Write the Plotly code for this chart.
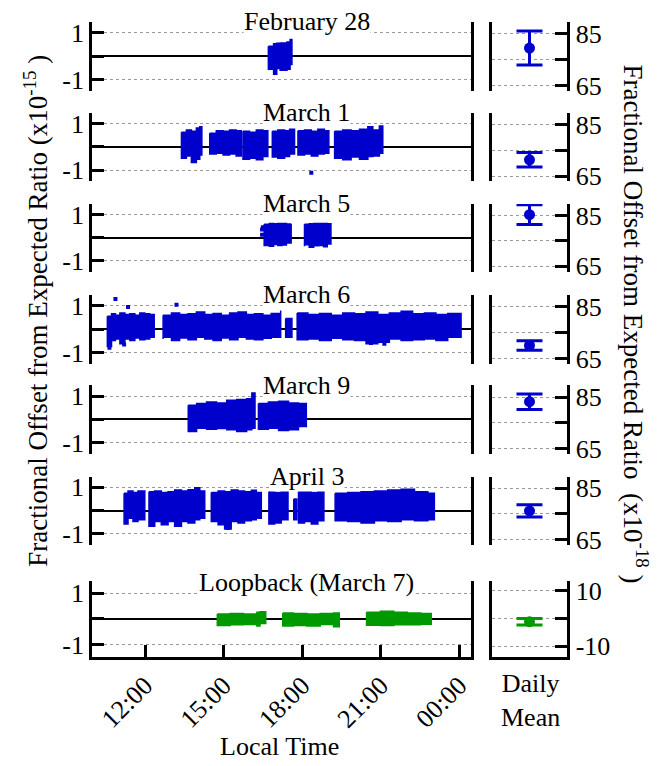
import plotly.graph_objects as go

FONT = "Liberation Serif, Times New Roman, serif"
BLUE = "#0000CC"
GREEN = "#009900"
W, H = 658, 766

# ---------------- data ----------------
row_titles = ["February 28", "March 1", "March 5", "March 6", "March 9",
              "April 3", "Loopback (March 7)"]
row_colors = [BLUE, BLUE, BLUE, BLUE, BLUE, BLUE, GREEN]

# local time in hours; upper / lower envelope of each data block (units of 1e-15)
feb28_t = [[16.71, 16.91, 17.03, 17.16, 17.42, 17.54, 17.61]]
feb28_hi = [[0.42, 0.52, 0.55, 0.56, 0.60, 0.70, 0.49]]
feb28_lo = [[-0.46, -0.56, -0.77, -0.52, -0.60, -0.56, -0.35]]
feb28_out_t = []
feb28_out_v = []

mar1_t = [[13.39, 13.58, 13.77, 13.96, 14.09, 14.17],
          [14.47, 14.72, 14.98, 15.23, 15.48, 15.68],
          [15.74, 15.99, 16.25, 16.50, 16.69],
          [16.86, 17.07, 17.33, 17.52, 17.71],
          [17.84, 18.09, 18.35, 18.60, 18.85, 19.02],
          [19.24, 19.55, 19.87, 20.19, 20.51, 20.70, 20.95, 21.08]]
mar1_hi = [[0.63, 0.72, 0.67, 0.81, 0.86, 0.63],
           [0.58, 0.69, 0.67, 0.72, 0.69, 0.63],
           [0.67, 0.63, 0.72, 0.69, 0.67],
           [0.67, 0.72, 0.69, 0.76, 0.67],
           [0.69, 0.72, 0.67, 0.76, 0.69, 0.63],
           [0.67, 0.72, 0.69, 0.76, 0.86, 0.72, 0.90, 0.63]]
mar1_lo = [[-0.31, -0.49, -0.39, -0.67, -0.53, -0.35],
           [-0.25, -0.31, -0.28, -0.35, -0.31, -0.39],
           [-0.44, -0.53, -0.49, -0.56, -0.42],
           [-0.39, -0.44, -0.49, -0.42, -0.31],
           [-0.31, -0.35, -0.31, -0.39, -0.31, -0.28],
           [-0.42, -0.49, -0.56, -0.44, -0.53, -0.42, -0.39, -0.28]]
mar1_out_t = [18.35]
mar1_out_v = [-1.11]

mar5_t = [[16.55, 16.75, 16.91, 17.07, 17.23, 17.40, 17.58],
          [18.09, 18.27, 18.44, 18.63, 18.82, 18.96, 19.10]]
mar5_hi = [[0.58, 0.61, 0.60, 0.61, 0.61, 0.59, 0.60],
           [0.58, 0.60, 0.61, 0.61, 0.61, 0.60, 0.60]]
mar5_lo = [[-0.31, -0.35, -0.38, -0.30, -0.35, -0.33, -0.24],
           [-0.38, -0.32, -0.42, -0.36, -0.35, -0.40, -0.28]]
mar5_out_t = [16.47, 16.47, 16.50]
mar5_out_v = [0.35, 0.12, 0.45]

mar6_t = [[10.56, 10.72, 10.87, 11.04, 11.23, 11.42, 11.61, 11.80, 11.99, 12.18, 12.35],
          [12.69, 13.01, 13.32, 13.64, 13.96, 14.28, 14.60, 14.91, 15.23, 15.55, 15.87,
           16.18, 16.50, 16.82, 17.18],
          [17.37, 17.61],
          [17.81, 18.22, 18.66, 19.11, 19.55, 20.00, 20.44, 20.89, 21.33, 21.78, 22.22,
           22.67, 23.11, 23.56, 24.07]]
mar6_hi = [[0.56, 0.66, 0.60, 0.70, 0.63, 0.66, 0.60, 0.70, 0.66, 0.63, 0.59],
           [0.60, 0.70, 0.63, 0.66, 0.74, 0.63, 0.67, 0.60, 0.70, 0.74, 0.63,
            0.66, 0.60, 0.67, 0.80],
           [0.46, 0.46],
           [0.70, 0.63, 0.67, 0.60, 0.70, 0.66, 0.74, 0.63, 0.70, 0.77, 0.66,
            0.70, 0.63, 0.67, 0.63]]
mar6_lo = [[-0.42, -0.74, -0.49, -0.42, -0.63, -0.42, -0.49, -0.38, -0.46, -0.42, -0.35],
           [-0.42, -0.35, -0.49, -0.38, -0.46, -0.35, -0.42, -0.49, -0.38, -0.45, -0.35,
            -0.42, -0.46, -0.39, -0.35],
           [-0.35, -0.35],
           [-0.38, -0.46, -0.42, -0.49, -0.39, -0.46, -0.49, -0.63, -0.56, -0.42, -0.49,
            -0.46, -0.42, -0.49, -0.35]]
mar6_out_t = [10.87, 11.35, 13.20, 10.64, 11.20, 20.63, 21.14]
mar6_out_v = [1.30, 0.95, 1.05, -0.80, -0.66, -0.60, -0.63]

mar9_t = [[13.65, 13.97, 14.35, 14.73, 15.12, 15.50, 15.88, 16.08, 16.20],
          [16.33, 16.71, 17.10, 17.48, 17.86, 18.16]]
mar9_hi = [[0.61, 0.68, 0.75, 0.70, 0.82, 0.85, 0.89, 1.13, 0.61],
           [0.68, 0.75, 0.85, 0.70, 0.68, 0.56]]
mar9_lo = [[-0.31, -0.52, -0.38, -0.42, -0.39, -0.45, -0.52, -0.45, -0.38],
           [-0.31, -0.42, -0.38, -0.48, -0.45, -0.31]]
mar9_out_t = []
mar9_out_v = []

apr3_t = [[11.20, 11.35, 11.54, 11.73, 11.99],
          [12.15, 12.37, 12.62, 12.88, 13.13, 13.39, 13.64, 13.90, 14.09, 14.28],
          [14.53, 14.79, 15.04, 15.29, 15.55, 15.80, 16.06, 16.25, 16.44],
          [16.73, 16.95, 17.20, 17.46],
          [17.68, 17.80],
          [17.86, 18.09, 18.35, 18.60, 18.83],
          [19.26, 19.74, 20.25, 20.76, 21.27, 21.78, 22.29, 22.80, 23.05]]
apr3_hi = [[0.74, 0.84, 0.78, 0.84, 0.81],
           [0.81, 0.84, 0.78, 0.81, 0.88, 0.84, 0.89, 0.98, 0.84, 0.74],
           [0.78, 0.84, 0.81, 0.88, 0.84, 0.81, 0.87, 0.78, 0.74],
           [0.81, 0.78, 0.84, 0.74],
           [0.50, 0.52],
           [0.81, 0.84, 0.78, 0.81, 0.74],
           [0.74, 0.78, 0.81, 0.84, 0.88, 0.92, 0.81, 0.74, 0.70]]
apr3_lo = [[-0.40, -0.58, -0.33, -0.47, -0.40],
           [-0.54, -0.68, -0.47, -0.61, -0.47, -0.68, -0.47, -0.54, -0.40, -0.33],
           [-0.40, -0.47, -0.61, -0.79, -0.47, -0.54, -0.44, -0.40, -0.33],
           [-0.47, -0.58, -0.54, -0.40],
           [-0.35, -0.40],
           [-0.40, -0.54, -0.47, -0.58, -0.44],
           [-0.40, -0.44, -0.47, -0.54, -0.44, -0.47, -0.40, -0.44, -0.40]]
apr3_out_t = [15.17]
apr3_out_v = [-0.75]

loop_t = [[14.76, 15.25, 15.76, 16.27, 16.39, 16.61],
          [17.26, 17.67, 18.18, 18.69, 19.20, 19.42],
          [20.46, 20.99, 21.50, 22.01, 22.53, 22.93]]
loop_hi = [[0.19, 0.21, 0.19, 0.26, 0.28, 0.23],
           [0.23, 0.21, 0.19, 0.21, 0.23, 0.21],
           [0.26, 0.30, 0.26, 0.23, 0.21, 0.19]]
loop_lo = [[-0.22, -0.26, -0.23, -0.22, -0.28, -0.18],
           [-0.22, -0.28, -0.26, -0.28, -0.22, -0.31],
           [-0.22, -0.25, -0.26, -0.23, -0.23, -0.21]]
loop_out_t = []
loop_out_v = []

# daily means (units of 1e-18) and their uncertainties
mean_vals = [79.4, 71.3, 85.3, 70.0, 83.2, 76.2, -1.2]
mean_errs = [6.5, 2.8, 3.9, 1.8, 3.0, 2.4, 1.2]

time_tickvals = [12, 15, 18, 21, 24]
time_ticktext = ["12:00", "15:00", "18:00", "21:00", "00:00"]

rows = [
    (feb28_t, feb28_hi, feb28_lo, feb28_out_t, feb28_out_v),
    (mar1_t, mar1_hi, mar1_lo, mar1_out_t, mar1_out_v),
    (mar5_t, mar5_hi, mar5_lo, mar5_out_t, mar5_out_v),
    (mar6_t, mar6_hi, mar6_lo, mar6_out_t, mar6_out_v),
    (mar9_t, mar9_hi, mar9_lo, mar9_out_t, mar9_out_v),
    (apr3_t, apr3_hi, apr3_lo, apr3_out_t, apr3_out_v),
    (loop_t, loop_hi, loop_lo, loop_out_t, loop_out_v),
]

# ---------------- layout geometry (pixels) ----------------
row_top = [17, 110, 203, 296, 388, 481, 588]
row_bot = [88, 180, 272, 366, 458, 551, 665]
left_x = (92.3, 472.0)
right_x = (492.3, 568.3)

fig = go.Figure()
layout = dict(
    width=W, height=H, margin=dict(l=0, r=0, t=0, b=0),
    paper_bgcolor="white", plot_bgcolor="white", showlegend=False,
    font=dict(family=FONT, size=26, color="black"),
)

annotations = []
n = len(rows)
for i, (ts, his, los, ot, ov) in enumerate(rows):
    col = row_colors[i]
    kl = i + 1          # left axis index
    kr = i + 1 + n      # right axis index
    xl, yl = f"x{kl}", f"y{kl}"
    xr, yr = f"x{kr}", f"y{kr}"
    for t, hi, lo in zip(ts, his, los):
        fig.add_trace(go.Scatter(
            x=t + t[::-1] + [t[0]], y=hi + lo[::-1] + [hi[0]],
            mode="lines", fill="toself", fillcolor=col,
            line=dict(color=col, width=1.5, shape="hv"), xaxis=xl, yaxis=yl,
            hoverinfo="skip"))
    if ot:
        fig.add_trace(go.Scatter(
            x=ot, y=ov, mode="markers",
            marker=dict(color=col, size=4, symbol="square"),
            xaxis=xl, yaxis=yl))
    fig.add_trace(go.Scatter(
        x=[1], y=[mean_vals[i]], mode="markers",
        marker=dict(color=col, size=11),
        error_y=dict(type="data", array=[mean_errs[i]], color=col,
                     thickness=3, width=13),
        xaxis=xr, yaxis=yr))

    ydom = [1 - row_bot[i] / H, 1 - row_top[i] / H]
    last = i == n - 1
    # left panels
    layout[f"xaxis{kl}"] = dict(
        domain=[left_x[0] / W, left_x[1] / W], anchor=yl, range=[9.98, 24.46],
        showgrid=False, zeroline=False,
        showline=last, linewidth=3, linecolor="black",
        ticks="inside" if last else "", ticklen=12, tickwidth=3, tickcolor="black",
        tickvals=time_tickvals, ticktext=time_ticktext, tickangle=-45,
        showticklabels=last, tickfont=dict(size=26))
    layout[f"yaxis{kl}"] = dict(
        domain=ydom, anchor=xl, range=[-1.49, 1.46],
        tickvals=[-1, 0, 1], ticktext=["-1", "", "1"],
        ticks="inside", ticklen=12, tickwidth=3, tickcolor="black",
        showline=True, mirror=True, linewidth=3, linecolor="black",
        showgrid=True, gridcolor="#999999", gridwidth=1, griddash="3px,3px",
        zeroline=True, zerolinecolor="black", zerolinewidth=1.5,
        tickfont=dict(size=26))
    # right panels
    if last:
        rrange, rvals, rtext = [-13.9, 13.3], [-10, 0, 10], ["-10", "", "10"]
    else:
        rrange, rvals, rtext = [62.9, 89.5], [65, 75, 85], ["65", "", "85"]
    layout[f"xaxis{kr}"] = dict(
        domain=[right_x[0] / W, right_x[1] / W], anchor=yr, range=[0, 2],
        showgrid=False, zeroline=False, showticklabels=False, ticks="",
        showline=last, linewidth=3, linecolor="black")
    layout[f"yaxis{kr}"] = dict(
        domain=ydom, anchor=xr, range=rrange, side="right",
        tickvals=rvals, ticktext=rtext,
        ticks="inside", ticklen=12, tickwidth=3, tickcolor="black",
        showline=True, mirror=True, linewidth=3, linecolor="black",
        showgrid=True, gridcolor="#999999", gridwidth=1, griddash="3px,3px",
        zeroline=False, tickfont=dict(size=26))

    annotations.append(dict(
        text=row_titles[i], xref="paper", yref=yl, x=307 / W, y=1,
        xanchor="center", yanchor="middle", yshift=11, showarrow=False,
        bgcolor="white", borderpad=0, font=dict(size=26)))

annotations += [
    dict(text="Fractional Offset from Expected Ratio (x10<sup>-15</sup> )",
         xref="paper", yref="paper", x=36 / W, y=1 - 312 / H, textangle=-90,
         showarrow=False, font=dict(size=27), xanchor="center", yanchor="middle"),
    dict(text="Fractional Offset from Expected Ratio\u00a0 (x10<sup>-18</sup> )",
         xref="paper", yref="paper", x=637 / W, y=1 - 325 / H, textangle=90,
         showarrow=False, font=dict(size=27), xanchor="center", yanchor="middle"),
    dict(text="Local Time", xref="paper", yref="paper", x=280 / W, y=1 - 756 / H,
         showarrow=False, font=dict(size=26), xanchor="center", yanchor="middle"),
    dict(text="Daily<br>Mean", xref="paper", yref="paper", x=531 / W, y=1 - 709 / H,
         showarrow=False, font=dict(size=26), xanchor="center", yanchor="middle"),
]
layout["annotations"] = annotations
fig.update_layout(**layout)
fig.write_html("out.html")
